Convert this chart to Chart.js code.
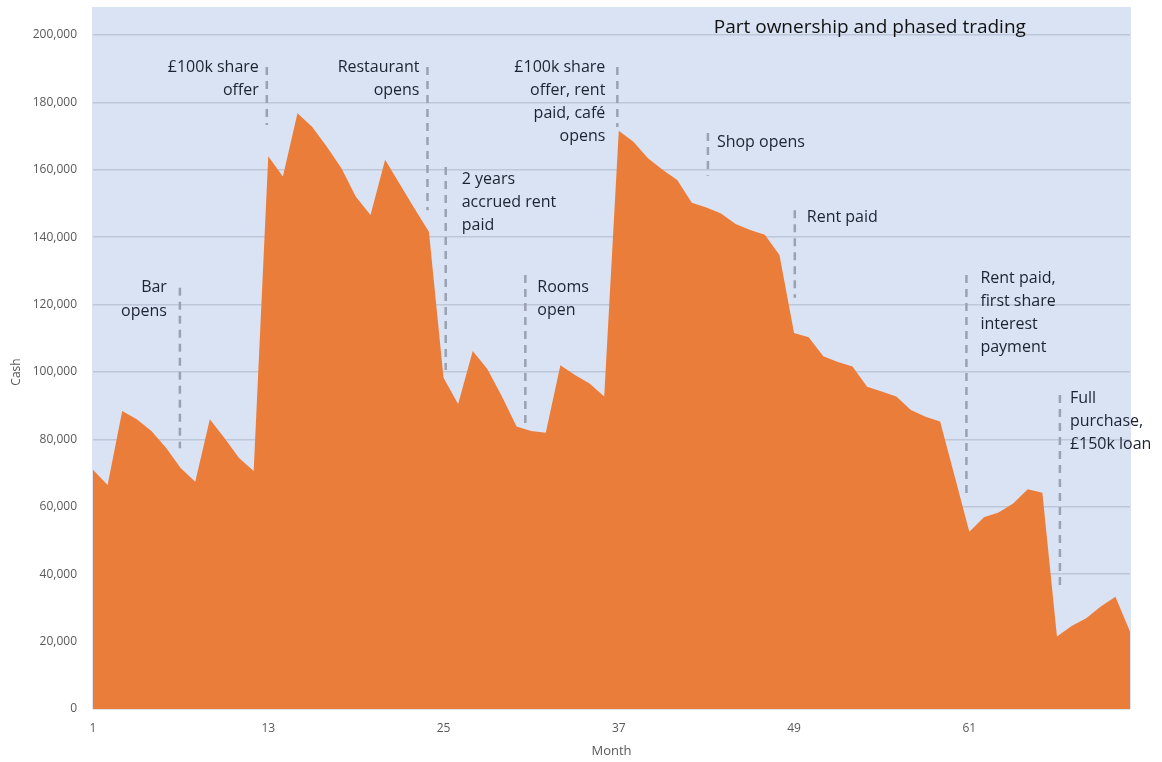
<!DOCTYPE html>
<html>
<head>
<meta charset="utf-8">
<script src="https://cdn.jsdelivr.net/npm/chart.js@4.4.1/dist/chart.umd.min.js"></script>
<style>
  html, body { margin: 0; padding: 0; background: #fff; }
  #wrap { width: 1162px; height: 762px; }
</style>
</head>
<body>
<div id="wrap"><canvas id="cashChart"></canvas></div>
<script>
const months = Array.from({ length: 72 }, (_, i) => i + 1);
const tickMonths = [1, 13, 25, 37, 49, 61];
const cash = [
  71000, 66500, 88400, 86000, 82500, 77500, 71500, 67400, 86000, 80400, 74500, 70600,
  164000, 158000, 176800, 172800, 166900, 160500, 152000, 146600, 163000, 155800, 148600, 141600,
  98300, 90500, 106200, 100900, 92700, 83800, 82500, 82000, 102000, 99100, 96600, 92700,
  171600, 168300, 163400, 160000, 157000, 150200, 148800, 147000, 143900, 142100, 140700, 134700,
  111600, 110300, 104700, 103000, 101600, 95600, 94200, 92700, 88700, 86700, 85300, 69000,
  52600, 56900, 58300, 61000, 65200, 64200, 21500, 24600, 26900, 30400, 33300, 23000
];

// event markers: month of the dashed line, its top/bottom in cash, label lines
const events = [
  { month: 6.95, top: 125000, bottom: 77400, side: 'left', gap: 13, text: ['Bar', 'opens'], textY: 125000 },
  { month: 12.9, top: 190500, bottom: 173300, side: 'left', gap: 8, text: ['£100k share', 'offer'], textY: 190500 },
  { month: 23.9, top: 190500, bottom: 148000, side: 'left', gap: 8, text: ['Restaurant', 'opens'], textY: 190500 },
  { month: 25.15, top: 160800, bottom: 100600, side: 'right', gap: 16, text: ['2 years', 'accrued rent', 'paid'], textY: 157200 },
  { month: 30.6, top: 128800, bottom: 83800, side: 'right', gap: 12, text: ['Rooms', 'open'], textY: 125200 },
  { month: 36.9, top: 190500, bottom: 172700, side: 'left', gap: 12, text: ['£100k share', 'offer, rent', 'paid, café', 'opens'], textY: 190500 },
  { month: 43.1, top: 170900, bottom: 158200, side: 'right', gap: 9, text: ['Shop opens'], textY: 168000 },
  { month: 49.05, top: 148000, bottom: 122000, side: 'right', gap: 12, text: ['Rent paid'], textY: 146000 },
  { month: 60.8, top: 128800, bottom: 63500, side: 'right', gap: 14, text: ['Rent paid,', 'first share', 'interest', 'payment'], textY: 127900 },
  { month: 67.2, top: 93200, bottom: 36500, side: 'right', gap: 10, text: ['Full', 'purchase,', '£150k loan'], textY: 92300 }
];

const chartTitle = 'Part ownership and phased trading';

const backdrop = {
  id: 'backdrop',
  beforeDraw(chart) {
    const { ctx, chartArea: a } = chart;
    ctx.save();
    ctx.fillStyle = '#dae3f3';
    ctx.fillRect(a.left - 1, 7, a.right - a.left + 2, a.bottom - 7);
    ctx.restore();
  }
};

const eventMarks = {
  id: 'eventMarks',
  afterDatasetsDraw(chart) {
    const { ctx, scales: { x, y } } = chart;
    ctx.save();
    ctx.strokeStyle = '#9aa2b1';
    ctx.lineWidth = 2.5;
    ctx.setLineDash([8, 6]);
    events.forEach(ev => {
      const px = x.getPixelForValue(ev.month);
      ctx.beginPath();
      ctx.moveTo(px, y.getPixelForValue(ev.top));
      ctx.lineTo(px, y.getPixelForValue(ev.bottom));
      ctx.stroke();
    });
    ctx.setLineDash([]);
    ctx.fillStyle = '#1c2333';
    ctx.font = '16px "Open Sans"';
    ctx.textBaseline = 'middle';
    events.forEach(ev => {
      const px = x.getPixelForValue(ev.month);
      const py = y.getPixelForValue(ev.textY);
      ctx.textAlign = ev.side === 'left' ? 'right' : 'left';
      const tx = ev.side === 'left' ? px - ev.gap : px + ev.gap;
      ev.text.forEach((line, i) => ctx.fillText(line, tx, py + i * 23.3));
    });
    ctx.font = '19px "Open Sans"';
    ctx.textAlign = 'left';
    ctx.fillStyle = '#111';
    ctx.fillText(chartTitle, x.getPixelForValue(43.5), 28);
    ctx.restore();
  }
};

new Chart(document.getElementById('cashChart'), {
  type: 'line',
  data: {
    labels: months,
    datasets: [{
      label: 'Cash',
      data: cash,
      backgroundColor: '#eb7d3b',
      borderWidth: 0,
      pointRadius: 0,
      fill: 'origin',
      tension: 0
    }]
  },
  options: {
    responsive: true,
    maintainAspectRatio: false,
    animation: false,
    layout: { padding: { top: 35, right: 32, left: 0, bottom: 0 } },
    plugins: { legend: { display: false }, tooltip: { enabled: false } },
    scales: {
      x: {
        type: 'linear',
        min: 1,
        max: 72,
        afterBuildTicks: s => { s.ticks = tickMonths.map(v => ({ value: v })); },
        afterFit: s => { s.height = 53; },
        grid: { display: false, drawTicks: false },
        border: { display: false },
        ticks: { color: '#595959', font: { family: 'Open Sans', size: 12 }, padding: 12, maxRotation: 0 },
        title: { display: true, text: 'Month', color: '#595959', font: { family: 'Open Sans', size: 13 }, padding: { top: 0, bottom: 3 } }
      },
      y: {
        min: 0,
        max: 200000,
        afterFit: s => { s.width = 93; },
        grid: { color: '#bcc7d9', lineWidth: 1.5, drawTicks: false },
        border: { display: false },
        ticks: {
          stepSize: 20000,
          color: '#595959',
          padding: 16,
          font: { family: 'Open Sans', size: 12 },
          callback: v => v.toLocaleString('en-GB')
        },
        title: { display: true, text: 'Cash', color: '#595959', font: { family: 'Open Sans', size: 12 }, padding: { top: 9, bottom: 0 } }
      }
    }
  },
  plugins: [backdrop, eventMarks]
});
</script>
</body>
</html>
